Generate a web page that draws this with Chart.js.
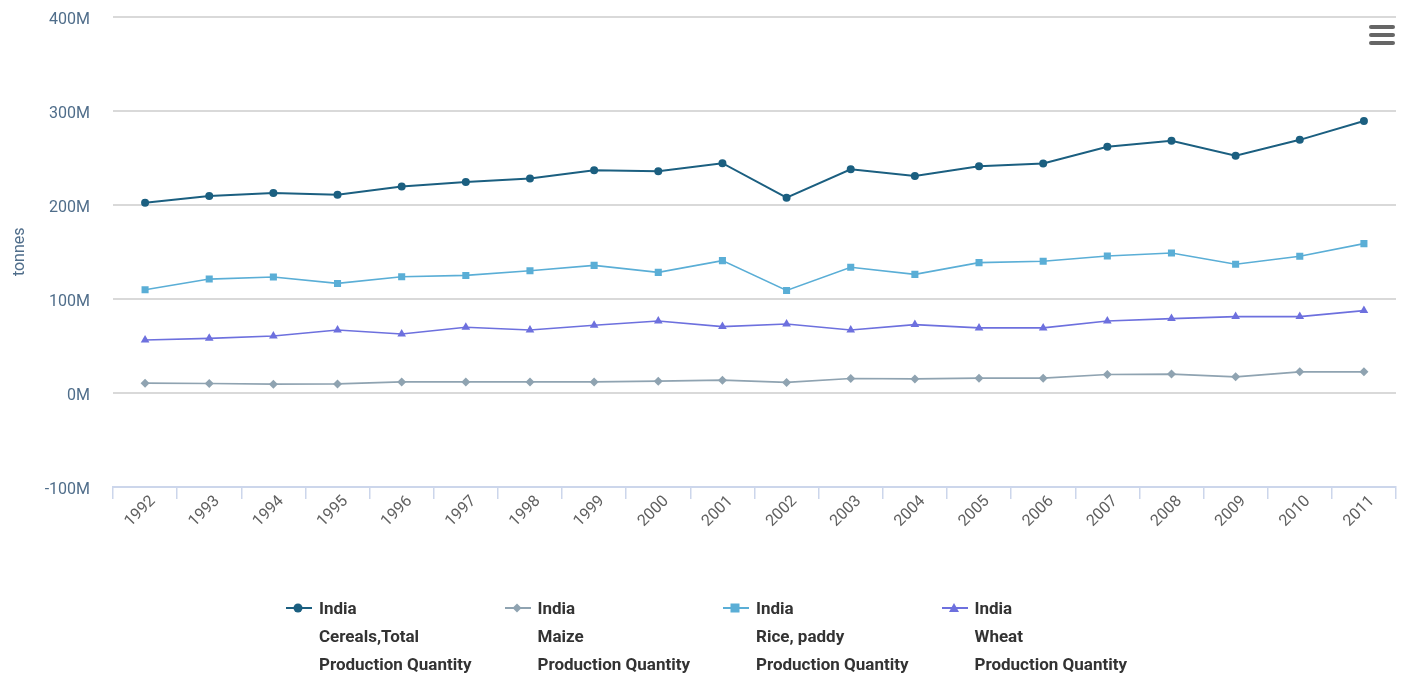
<!DOCTYPE html>
<html>
<head>
<meta charset="utf-8">
<script src="https://cdn.jsdelivr.net/npm/chart.js@4.4.1/dist/chart.umd.min.js"></script>
<style>
  html, body { margin: 0; padding: 0; background: #ffffff; }
  #wrap { position: relative; width: 1401px; height: 674px; overflow: hidden; font-family: Roboto, "Noto Sans", sans-serif; }
  #c { position: absolute; left: 0; top: -16px; }
  .menu { position: absolute; left: 1369px; top: 25px; width: 26px; }
  .menu div { height: 4px; background: #666; border-radius: 2px; margin-bottom: 4px; }
  .leg { position: absolute; top: 594px; font-weight: 700; font-size: 17px; color: #333; line-height: 28px; }
  .leg svg { position: absolute; left: 0; top: 8px; }
  .leg .txt { position: absolute; left: 33px; top: 0; white-space: nowrap; }
</style>
</head>
<body>
<div id="wrap">
  <canvas id="c" width="1401" height="690"></canvas>
  <div class="menu"><div></div><div></div><div></div></div>
  <div id="legend"></div>
</div>
<script>
// ---- data (values in millions of tonnes) ----
const years = ['1992','1993','1994','1995','1996','1997','1998','1999','2000','2001','2002','2003','2004','2005','2006','2007','2008','2009','2010','2011'];
const cereals = [202.2,209.2,212.4,210.7,219.3,224.2,227.8,236.7,235.6,244.2,207.5,237.7,230.6,241.0,243.8,261.6,268.0,252.0,269.0,289.0];
const maize   = [10.4,10.0,9.3,9.6,11.7,11.7,11.7,11.7,12.5,13.6,11.2,15.4,14.9,15.7,15.7,19.6,20.0,17.1,22.4,22.4];
const rice    = [109.6,121.0,123.2,116.4,123.5,124.9,129.9,135.6,128.1,140.6,108.9,133.5,126.0,138.5,139.9,145.6,148.8,136.7,145.2,158.7];
const wheat   = [56.3,58.0,60.5,66.9,62.7,69.8,66.9,71.9,76.5,70.5,73.3,66.9,72.6,69.1,69.1,76.5,79.0,81.1,81.1,87.5];
const yTicks  = [-100,0,100,200,300,400];
const seriesNames = [
  ['India','Cereals,Total','Production Quantity'],
  ['India','Maize','Production Quantity'],
  ['India','Rice, paddy','Production Quantity'],
  ['India','Wheat','Production Quantity']
];

const colors = ['#1b5f80', '#8fa3b1', '#5aaed6', '#6d70de'];
const styles = ['circle', 'rectRot', 'rect', 'triangle'];
const radii = [4, 4.5, 5, 5];
const widths = [2, 1.6, 1.6, 1.6];
const seriesData = [cereals, maize, rice, wheat];

const datasets = seriesData.map((d, i) => ({
  label: seriesNames[i].join(' '),
  data: d,
  borderColor: colors[i],
  backgroundColor: colors[i],
  pointBackgroundColor: colors[i],
  pointBorderColor: colors[i],
  pointBorderWidth: 0,
  pointStyle: styles[i],
  pointRadius: radii[i],
  borderWidth: widths[i],
  tension: 0
}));

new Chart(document.getElementById('c'), {
  type: 'line',
  data: { labels: years, datasets: datasets },
  options: {
    responsive: false,
    animation: false,
    layout: { padding: { top: 4, right: 4, left: 0, bottom: 0 } },
    plugins: { legend: { display: false }, tooltip: { enabled: false } },
    scales: {
      x: {
        offset: true,
        grid: { offset: true, drawOnChartArea: false, drawTicks: true, tickLength: 12, color: '#ccd6eb', lineWidth: 1.5 },
        border: { display: true, color: '#ccd6eb', width: 2 },
        ticks: { minRotation: 45, maxRotation: 45, color: '#606060', font: { family: 'Roboto', size: 16 }, padding: -7, labelOffset: 8, autoSkip: false },
        afterFit: (s) => { s.height = 187; }
      },
      y: {
        min: yTicks[0],
        max: yTicks[yTicks.length - 1],
        afterBuildTicks: (s) => { s.ticks = yTicks.map(v => ({ value: v })); },
        grid: { color: (ctx) => ctx.tick && ctx.tick.value === yTicks[0] ? 'rgba(0,0,0,0)' : '#d9d9d9', lineWidth: 2, drawTicks: false },
        border: { display: false },
        ticks: { color: '#4f6d8a', font: { family: 'Roboto', size: 16 }, padding: 23, labelOffset: 3, callback: (v) => v + 'M' },
        title: { display: true, text: 'tonnes', color: '#4f6d8a', font: { family: 'Roboto', size: 16 }, padding: { top: 10, bottom: 0 } },
        afterFit: (s) => { s.width = 113; }
      }
    }
  }
});

// HTML legend
const legend = document.getElementById('legend');
seriesNames.forEach((lines, i) => {
  const div = document.createElement('div');
  div.className = 'leg';
  div.style.left = (286 + i * 218.5) + 'px';
  let marker = '';
  const c = colors[i];
  if (styles[i] === 'circle') marker = `<circle cx="12" cy="6" r="4.5" fill="${c}"/>`;
  else if (styles[i] === 'rectRot') marker = `<polygon points="12,1.5 16.5,6 12,10.5 7.5,6" fill="${c}"/>`;
  else if (styles[i] === 'rect') marker = `<rect x="7.5" y="1.5" width="9" height="9" fill="${c}"/>`;
  else marker = `<polygon points="12,1 17,10 7,10" fill="${c}"/>`;
  div.innerHTML = `<svg width="26" height="12"><line x1="0" y1="6" x2="26" y2="6" stroke="${c}" stroke-width="2"/>${marker}</svg>` +
    `<div class="txt">${lines.join('<br>')}</div>`;
  legend.appendChild(div);
});
</script>
</body>
</html>
